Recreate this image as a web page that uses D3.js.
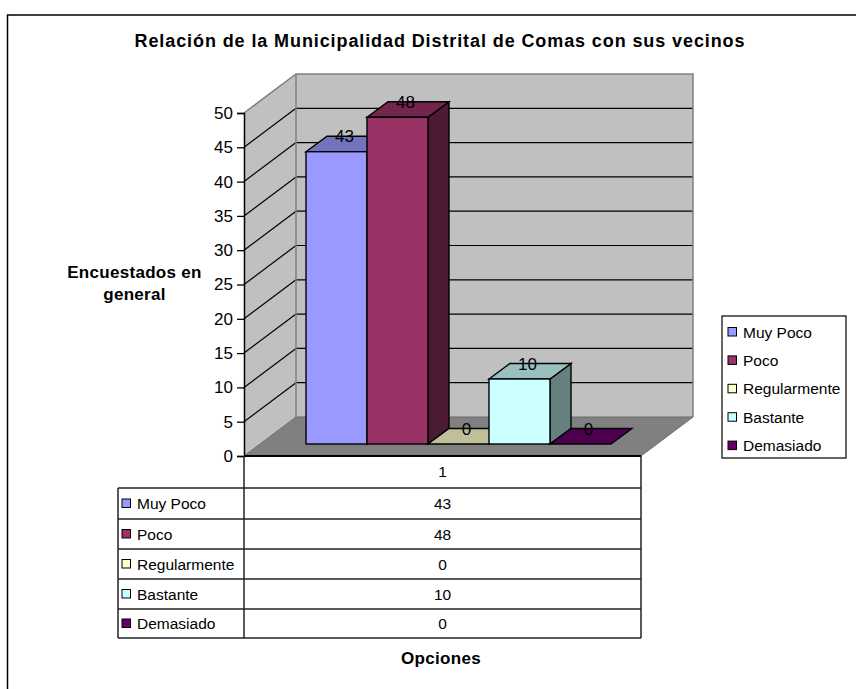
<!DOCTYPE html>
<html><head><meta charset="utf-8">
<style>html,body{margin:0;padding:0;background:#fff;overflow:hidden}svg{display:block}text{font-family:"Liberation Sans",Arial,sans-serif;fill:#000}</style>
<script src="https://cdnjs.cloudflare.com/ajax/libs/d3/7.8.5/d3.min.js"></script>
</head><body><svg id="c" width="856" height="689"></svg>
<script>
const titleText = "Relación de la Municipalidad Distrital de Comas con sus vecinos";
const yTitle = ["Encuestados en", "general"];
const xTitle = "Opciones";
const category = "1";
const seriesNames = ["Muy Poco", "Poco", "Regularmente", "Bastante", "Demasiado"];
const seriesValues = [43, 48, 0, 10, 0];
const seriesColors = ["#9999FF", "#993366", "#FFFFCC", "#CCFFFF", "#660066"];
const yTicks = [0,5,10,15,20,25,30,35,40,45,50];

const svg = d3.select("#c");
const wall = {x0:244, x1:641, y0:456, y1:113, dx:52, dy:-39};
const y = d3.scaleLinear().domain([0,50]).range([wall.y0, wall.y1]);
const barY = d3.scaleLinear().domain([0,10,50]).range([444,379,103.5]);
const barX = d3.scaleBand().domain(seriesNames).range([306, 611]).padding(0);
const bd = {dx:21, dy:-15.5};
const poly = (pts,fill,stroke,sw)=>svg.append("polygon").attr("points",pts.map(p=>p.join(",")).join(" ")).attr("fill",fill).attr("stroke",stroke||"none").attr("stroke-width",sw||0).attr("stroke-linejoin","miter");
const line = (x1,y1,x2,y2,s,w)=>svg.append("line").attr("x1",x1).attr("y1",y1).attr("x2",x2).attr("y2",y2).attr("stroke",s||"#000").attr("stroke-width",w||1.5);
const shade = (c,k)=>{const r=d3.rgb(c);return d3.rgb(r.r*k,r.g*k,r.b*k).formatHex();};
const txt = (x,yy,t,size,anchor,bold,ls)=>svg.append("text").attr("x",x).attr("y",yy).attr("font-size",size).attr("text-anchor",anchor||"start").attr("font-weight",bold?"bold":"normal").attr("letter-spacing",ls||0).text(t);

// frame
svg.append("rect").attr("x",7.5).attr("y",15).attr("width",900).attr("height",720).attr("fill","#fff").attr("stroke","#000").attr("stroke-width",1.5);
txt(440,47,titleText,18,"middle",true,0.9);

// walls and floor
const L=wall.x0,R=wall.x1,B=wall.y0,T=wall.y1,DX=wall.dx,DY=wall.dy;
poly([[L,T],[L+DX,T+DY],[R+DX,T+DY],[R+DX,B+DY],[L+DX,B+DY],[L,B]],"#C0C0C0");
poly([[L,B],[L+DX,B+DY],[R+DX,B+DY],[R,B]],"#808080");
// gridlines from the y scale
yTicks.slice(1,-1).forEach(t=>{
  const v=y(t);
  line(L,v,L+DX,v+DY,"#000",1.2);
  line(L+DX,v+DY,R+DX,v+DY,"#000",1.2);
});
// wall borders
svg.append("polyline").attr("points",[[L,T],[L+DX,T+DY],[R+DX,T+DY],[R+DX,B+DY]].map(p=>p.join(",")).join(" ")).attr("fill","none").attr("stroke","#808080").attr("stroke-width",1.5);
line(L+DX,T+DY,L+DX,B+DY,"#808080",1.5);
svg.append("polyline").attr("points",[[L,B],[L+DX,B+DY],[R+DX,B+DY],[R,B]].map(p=>p.join(",")).join(" ")).attr("fill","none").attr("stroke","#6a6a6a").attr("stroke-width",1);

// bars
seriesNames.forEach((n,i)=>{
  const v=seriesValues[i], x0=barX(n), x1=x0+barX.bandwidth(), b=barY(0), t=barY(v), c=seriesColors[i];
  const sw=1.4, st="#000";
  if(v>0){
    poly([[x1,b],[x1+bd.dx,b+bd.dy],[x1+bd.dx,t+bd.dy],[x1,t]],shade(c,.5),st,sw);
    poly([[x0,t],[x0+bd.dx,t+bd.dy],[x1+bd.dx,t+bd.dy],[x1,t]],shade(c,.75),st,sw);
    svg.append("rect").attr("x",x0).attr("y",t).attr("width",x1-x0).attr("height",b-t).attr("fill",c).attr("stroke",st).attr("stroke-width",sw);
  } else {
    poly([[x0,b],[x0+bd.dx,b+bd.dy],[x1+bd.dx,b+bd.dy],[x1,b]],shade(c,.75),st,sw);
  }
});
// value labels
seriesNames.forEach((n,i)=>{
  const x0=barX(n), t=barY(seriesValues[i]);
  txt(x0+barX.bandwidth()/2+8,t+bd.dy+6,String(seriesValues[i]),17,"middle");
});

// y axis
const yAxis = d3.axisLeft(y).tickValues(yTicks).tickSize(7).tickPadding(4);
const ag = svg.append("g").attr("transform",`translate(${L},0)`).call(yAxis);
ag.selectAll("path").attr("stroke","#000").attr("stroke-width",1.5);
ag.selectAll("line").attr("stroke","#000").attr("stroke-width",1.3);
ag.selectAll("text").attr("font-size",17).attr("font-family",'"Liberation Sans",Arial,sans-serif').attr("fill","#000");
yTitle.forEach((s,i)=>txt(134.5,278+i*22,s,17,"middle",true,0.3));

// data table
const rowY=[456,488,519,549,579,609,638], TL=118;
line(L,456,R,456,"#000",2);
line(L,456,L,638,"#222",1.5);
line(R,456,R,638,"#222",1.5);
line(TL,488,TL,638,"#222",1.5);
rowY.slice(1).forEach(v=>line(TL,v,R,v,"#222",1.5));
const mid=(L+R)/2;
txt(mid,477,category,15.5,"middle");
seriesNames.forEach((n,i)=>{
  const cy=(rowY[i+1]+rowY[i+2])/2;
  svg.append("rect").attr("x",122).attr("y",cy-4.5).attr("width",8.5).attr("height",8.5).attr("fill",seriesColors[i]).attr("stroke","#000").attr("stroke-width",1);
  txt(137,cy+5.5,n,15.5);
  txt(mid,cy+5.5,String(seriesValues[i]),15.5,"middle");
});
txt(441,664,xTitle,17,"middle",true,0.3);

// legend
svg.append("rect").attr("x",722).attr("y",316).attr("width",124).attr("height",142).attr("fill","#fff").attr("stroke","#000").attr("stroke-width",1.2);
seriesNames.forEach((n,i)=>{
  const cy=332+i*28.4;
  svg.append("rect").attr("x",728).attr("y",cy-4.5).attr("width",8.5).attr("height",8.5).attr("fill",seriesColors[i]).attr("stroke","#000").attr("stroke-width",1);
  txt(743,cy+5.5,n,15.5);
});
</script></body></html>
